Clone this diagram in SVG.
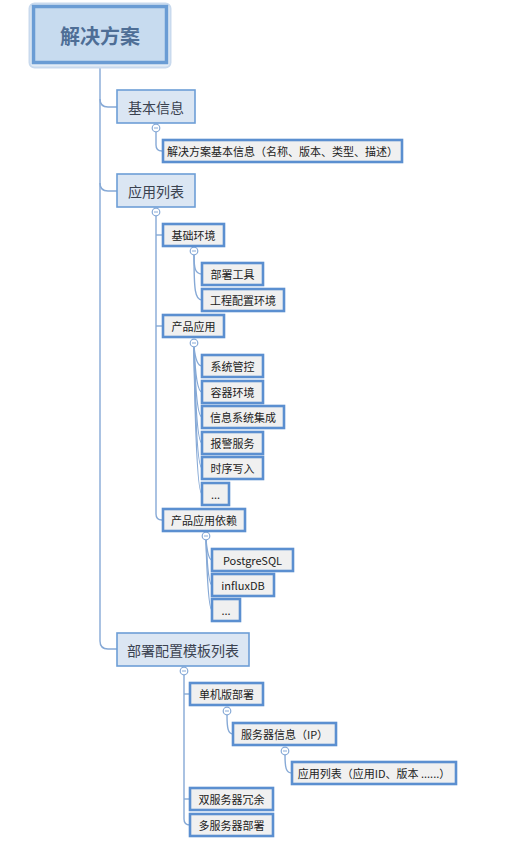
<svg xmlns="http://www.w3.org/2000/svg" width="516" height="845" viewBox="0 0 516 845">
<style>
text{font-family:"Noto Sans CJK SC","Liberation Sans",sans-serif;fill:#333;text-anchor:middle;dominant-baseline:central}
.l1 rect{fill:#dbe6f3;stroke:#6d9ed6;stroke-width:1.6}
.l1 text{font-size:14px;fill:#3a4250}
.l2 rect{fill:#f0f0f0;stroke:#5b8fd0;stroke-width:2.6}
.l2 text{font-size:11px;fill:#222}
.con path{fill:none;stroke:#86a9d6;stroke-width:1.4}
.tog circle{fill:#fff;stroke:#86a9d6;stroke-width:1.2}
.tog path{stroke:#86a9d6;stroke-width:1}
</style>
<rect width="516" height="845" fill="#fff"/>
<g id="connectors" class="con">
<path d="M100,66 L100,641 Q100,649 108,649 L117,649"/>
<path d="M100,99 Q100,107 108,107 L117,107"/>
<path d="M100,183 Q100,191 108,191 L117,191"/>
<path d="M156,132 L156,145 Q156,151 162,151 L163,151"/>
<path d="M156,216 L156,514 Q156,520 162,520 L163,520"/>
<path d="M156,235 L163,235"/>
<path d="M156,326 L163,326"/>
<path d="M194,255 C194,268 195,274 202,274"/>
<path d="M194,255 C194,290 195,300 202,300"/>
<path d="M194,347 Q196,366 202,366"/>
<path d="M194,347 Q196,392 202,392"/>
<path d="M194,347 Q196,417 202,417"/>
<path d="M194,347 Q196,443 202,443"/>
<path d="M194,347 Q196,468 202,468"/>
<path d="M194,347 Q196,494 202,494"/>
<path d="M206,540 Q208,560 212,560"/>
<path d="M206,540 Q208,585 212,585"/>
<path d="M206,540 Q208,610 212,610"/>
<path d="M184,675 L184,819 Q184,825 190,825"/>
<path d="M184,694 L190,694"/>
<path d="M184,799 L190,799"/>
<path d="M227,715 C227,728 228,734 233,734"/>
<path d="M285,755 C285,768 286,773 292,773"/>
</g>
<g class="tog">
<g><circle cx="156" cy="128" r="3.8"/><path d="M154,128 H158"/></g>
<g><circle cx="156" cy="212" r="3.8"/><path d="M154,212 H158"/></g>
<g><circle cx="194" cy="251" r="3.8"/><path d="M192,251 H196"/></g>
<g><circle cx="194" cy="343" r="3.8"/><path d="M192,343 H196"/></g>
<g><circle cx="206" cy="536" r="3.8"/><path d="M204,536 H208"/></g>
<g><circle cx="184" cy="671" r="3.8"/><path d="M182,671 H186"/></g>
<g><circle cx="227" cy="711" r="3.8"/><path d="M225,711 H229"/></g>
<g><circle cx="285" cy="751" r="3.8"/><path d="M283,751 H287"/></g>
</g>
<g id="root">
<rect x="29.5" y="3.5" width="141" height="64" rx="5" fill="#e3ecf6" stroke="#c9daee" stroke-width="2"/>
<rect x="33.5" y="6.5" width="133" height="56" fill="#c7dbef" stroke="#6a9cd4" stroke-width="3.5"/>
<text x="100" y="35" style="font-size:20px;font-weight:bold;fill:#4e6e96">解决方案</text>
</g>
<g id="n-jbxx" class="l1"><rect x="117" y="90" width="78" height="33"/><text x="156" y="106.5">基本信息</text></g>
<g id="n-jbxx-1" class="l2"><rect x="163" y="140" width="239" height="22"/><text x="282.5" y="151">解决方案基本信息（名称、版本、类型、描述）</text></g>
<g id="n-yylb" class="l1"><rect x="117" y="174" width="78" height="33"/><text x="156" y="190.5">应用列表</text></g>
<g id="n-jchj" class="l2"><rect x="163" y="224" width="61" height="22"/><text x="193.5" y="235">基础环境</text></g>
<g id="n-bsgj" class="l2"><rect x="202" y="263" width="61" height="22"/><text x="232.5" y="274">部署工具</text></g>
<g id="n-gcpz" class="l2"><rect x="202" y="289" width="82" height="22"/><text x="243" y="300">工程配置环境</text></g>
<g id="n-cpyy" class="l2"><rect x="163" y="315" width="61" height="22"/><text x="193.5" y="326">产品应用</text></g>
<g id="n-xtgk" class="l2"><rect x="202" y="355" width="61" height="22"/><text x="232.5" y="366">系统管控</text></g>
<g id="n-rqhj" class="l2"><rect x="202" y="381" width="61" height="22"/><text x="232.5" y="392">容器环境</text></g>
<g id="n-xxxt" class="l2"><rect x="202" y="406" width="82" height="22"/><text x="243" y="417">信息系统集成</text></g>
<g id="n-bjfw" class="l2"><rect x="202" y="432" width="61" height="22"/><text x="232.5" y="443">报警服务</text></g>
<g id="n-sxxr" class="l2"><rect x="202" y="457" width="61" height="22"/><text x="232.5" y="468">时序写入</text></g>
<g id="n-more1" class="l2"><rect x="202" y="483" width="27" height="22"/><text x="215.5" y="494">...</text></g>
<g id="n-cpyl" class="l2"><rect x="163" y="509" width="82" height="22"/><text x="204" y="520">产品应用依赖</text></g>
<g id="n-pg" class="l2"><rect x="212" y="549" width="81" height="22"/><text x="252.5" y="560">PostgreSQL</text></g>
<g id="n-influx" class="l2"><rect x="212" y="574" width="62" height="22"/><text x="243" y="585">influxDB</text></g>
<g id="n-more2" class="l2"><rect x="212" y="599" width="28" height="22"/><text x="226" y="610">...</text></g>
<g id="n-bspz" class="l1"><rect x="117" y="633" width="132" height="33"/><text x="183" y="649.5">部署配置模板列表</text></g>
<g id="n-djb" class="l2"><rect x="190" y="683" width="73" height="22"/><text x="226.5" y="694">单机版部署</text></g>
<g id="n-fwq" class="l2"><rect x="233" y="723" width="103" height="22"/><text x="284.5" y="734">服务器信息（IP）</text></g>
<g id="n-yylb2" class="l2"><rect x="292" y="762" width="164" height="22"/><text x="374" y="773">应用列表（应用ID、版本 ......）</text></g>
<g id="n-sfwq" class="l2"><rect x="190" y="788" width="83" height="22"/><text x="231.5" y="799">双服务器冗余</text></g>
<g id="n-dfwq" class="l2"><rect x="190" y="814" width="83" height="22"/><text x="231.5" y="825">多服务器部署</text></g>
</svg>
